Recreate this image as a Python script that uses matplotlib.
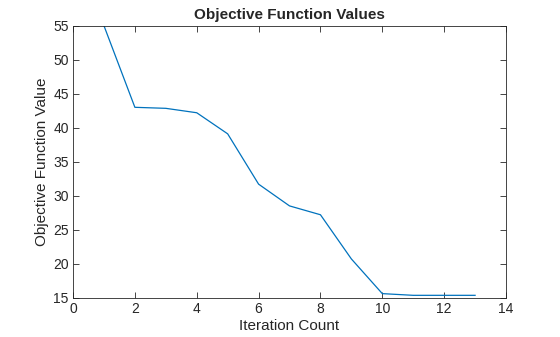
import matplotlib
matplotlib.use("Agg")
import matplotlib.pyplot as plt

iterations = [1, 2, 3, 4, 5, 6, 7, 8, 9, 10, 11, 12, 13]
objective_values = [55.0, 43.0, 42.85, 42.2, 39.1, 31.7, 28.5, 27.2, 20.7, 15.6, 15.35, 15.35, 15.35]
x_ticks = [0, 2, 4, 6, 8, 10, 12, 14]
y_ticks = [15, 20, 25, 30, 35, 40, 45, 50, 55]

plt.rcParams['font.family'] = ['Liberation Sans', 'DejaVu Sans']
fig = plt.figure(figsize=(5.6, 3.37), dpi=100)
ax = fig.add_axes([0.1304, 0.1166, 0.9036 - 0.1304, 0.9237 - 0.1166])
ax.plot(iterations, objective_values, color='#0072BD', lw=0.9)
ax.set_xlim(0, 14)
ax.set_ylim(15, 55)
ax.set_xticks(x_ticks)
ax.set_yticks(y_ticks)
tc = '#262626'
ax.tick_params(direction='in', length=4, width=0.6, top=True, right=True, labelsize=10, colors=tc, pad=3)
for s in ax.spines.values():
    s.set_linewidth(0.6)
    s.set_color(tc)
ax.set_xlabel('Iteration Count', fontsize=11, color=tc, labelpad=2)
ax.set_ylabel('Objective Function Value', fontsize=11, color=tc, labelpad=3)
ax.set_title('Objective Function Values', fontsize=11, fontweight='bold', color=tc, pad=5)
fig.savefig('out.png', dpi=100)
